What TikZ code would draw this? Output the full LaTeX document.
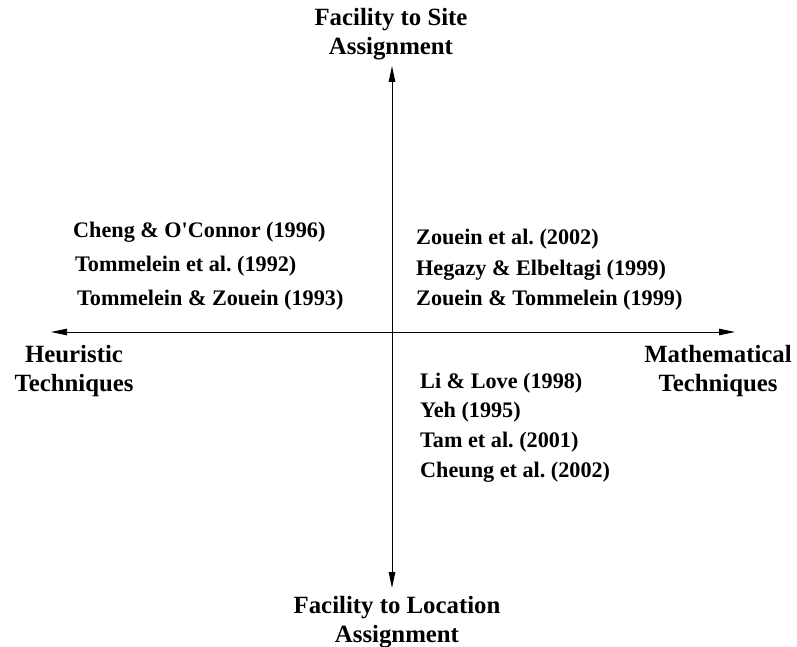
\documentclass[tikz,border=0pt]{standalone}
\usepackage{fontspec}
\setmainfont{Liberation Serif}
\usetikzlibrary{arrows.meta}
\frenchspacing

\begin{document}
\begin{tikzpicture}[x=1pt,y=-1pt,
  axis/.style={line width=1pt,-{Triangle[length=16pt,width=6.5pt]}},
  axislabel/.style={font=\fontsize{24.8}{29}\selectfont\bfseries,align=center,inner sep=0pt},
  ref/.style={font=\fontsize{22.2}{24}\selectfont\bfseries,anchor=west,inner sep=0pt}]
  \useasboundingbox (0,0) rectangle (797,647);

  % axis end labels
  \node[axislabel] (site) at (391,34) {Facility to Site\\Assignment};
  \node[axislabel] (loc) at (397,622) {Facility to Location\\Assignment};
  \node[axislabel] (heur) at (74,371) {Heuristic\\Techniques};
  \node[axislabel] (math) at (718,371) {Mathematical\\Techniques};

  % axes through the origin
  \coordinate (o) at (392,332);
  \coordinate (top) at (392,66);
  \coordinate (bot) at (392,588);
  \coordinate (left) at (51,332);
  \coordinate (right) at (735,332);
  \draw[axis] (o) -- (top);
  \draw[axis] (o) -- (bot);
  \draw[axis] (o) -- (left);
  \draw[axis] (o) -- (right);

  % heuristic / site quadrant
  \node[ref] (r1) at (73,232) {Cheng \& O\textquotesingle Connor (1996)};
  \node[ref] (r2) at (75,266) {Tommelein et al. (1992)};
  \node[ref] (r3) at (77,300) {Tommelein \& Zouein (1993)};

  % mathematical / site quadrant
  \node[ref] (r4) at (416,239) {Zouein et al. (2002)};
  \node[ref] (r5) at (416,270) {Hegazy \& Elbeltagi (1999)};
  \node[ref] (r6) at (416,300) {Zouein \& Tommelein (1999)};

  % mathematical / location quadrant
  \node[ref] (r7) at (420,383) {Li \& Love (1998)};
  \node[ref] (r8) at (420,412) {Yeh (1995)};
  \node[ref] (r9) at (420,442) {Tam et al. (2001)};
  \node[ref] (r10) at (420,472) {Cheung et al. (2002)};
\end{tikzpicture}
\end{document}
